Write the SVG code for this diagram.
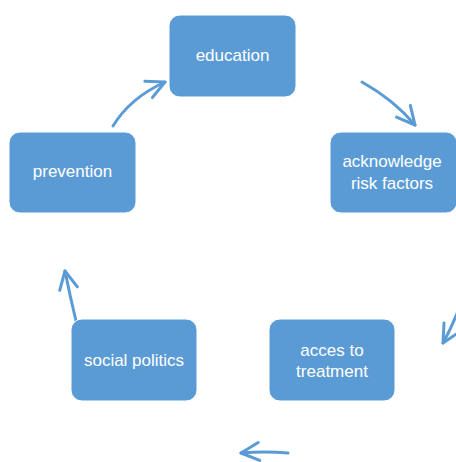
<svg xmlns="http://www.w3.org/2000/svg" width="456" height="462" viewBox="0 0 456 462">
<style>
.box{fill:#5B9BD5;stroke:#ffffff;stroke-width:1}
.lbl{font-family:"Liberation Sans",Arial,sans-serif;font-size:17px;fill:#ffffff;text-anchor:middle}
.arc{fill:none;stroke:#5B9BD5;stroke-width:3;stroke-linecap:round;stroke-linejoin:round}
</style>
<defs>
<marker id="head" markerUnits="userSpaceOnUse" markerWidth="30" markerHeight="30" refX="0" refY="0" viewBox="-25 -15 30 30" orient="auto" overflow="visible">
<path d="M-18,-9 L0,0 L-18,9" fill="none" stroke="#5B9BD5" stroke-width="3" stroke-linecap="round" stroke-linejoin="round"/>
</marker>
</defs>
<rect width="456" height="462" fill="#ffffff"/>
<g id="connectors">
<path class="arc" d="M362,82 Q394,100 415,125" marker-end="url(#head)"/>
<path class="arc" d="M466,288 Q456,320 443,343" marker-end="url(#head)"/>
<path class="arc" d="M288,453 Q265,451 241,453" marker-end="url(#head)"/>
<path class="arc" d="M76,321 Q70,296 65,271" marker-end="url(#head)"/>
<path class="arc" d="M113,126 Q130,98 165,82" marker-end="url(#head)"/>
</g>
<g id="education">
<rect class="box" x="169" y="15" width="127" height="82" rx="11"/>
<text class="lbl" x="232.5" y="61">education</text>
</g>
<g id="acknowledge">
<rect class="box" x="330" y="132" width="127" height="81" rx="11"/>
<text class="lbl" x="392" y="167">acknowledge</text>
<text class="lbl" x="392" y="189">risk factors</text>
</g>
<g id="acces">
<rect class="box" x="269" y="319" width="126" height="82" rx="11"/>
<text class="lbl" x="332" y="356">acces to</text>
<text class="lbl" x="332" y="377">treatment</text>
</g>
<g id="social">
<rect class="box" x="71" y="319" width="126" height="82" rx="11"/>
<text class="lbl" x="134" y="366">social politics</text>
</g>
<g id="prevention">
<rect class="box" x="9" y="132" width="127" height="81" rx="11"/>
<text class="lbl" x="72.5" y="177">prevention</text>
</g>
</svg>
